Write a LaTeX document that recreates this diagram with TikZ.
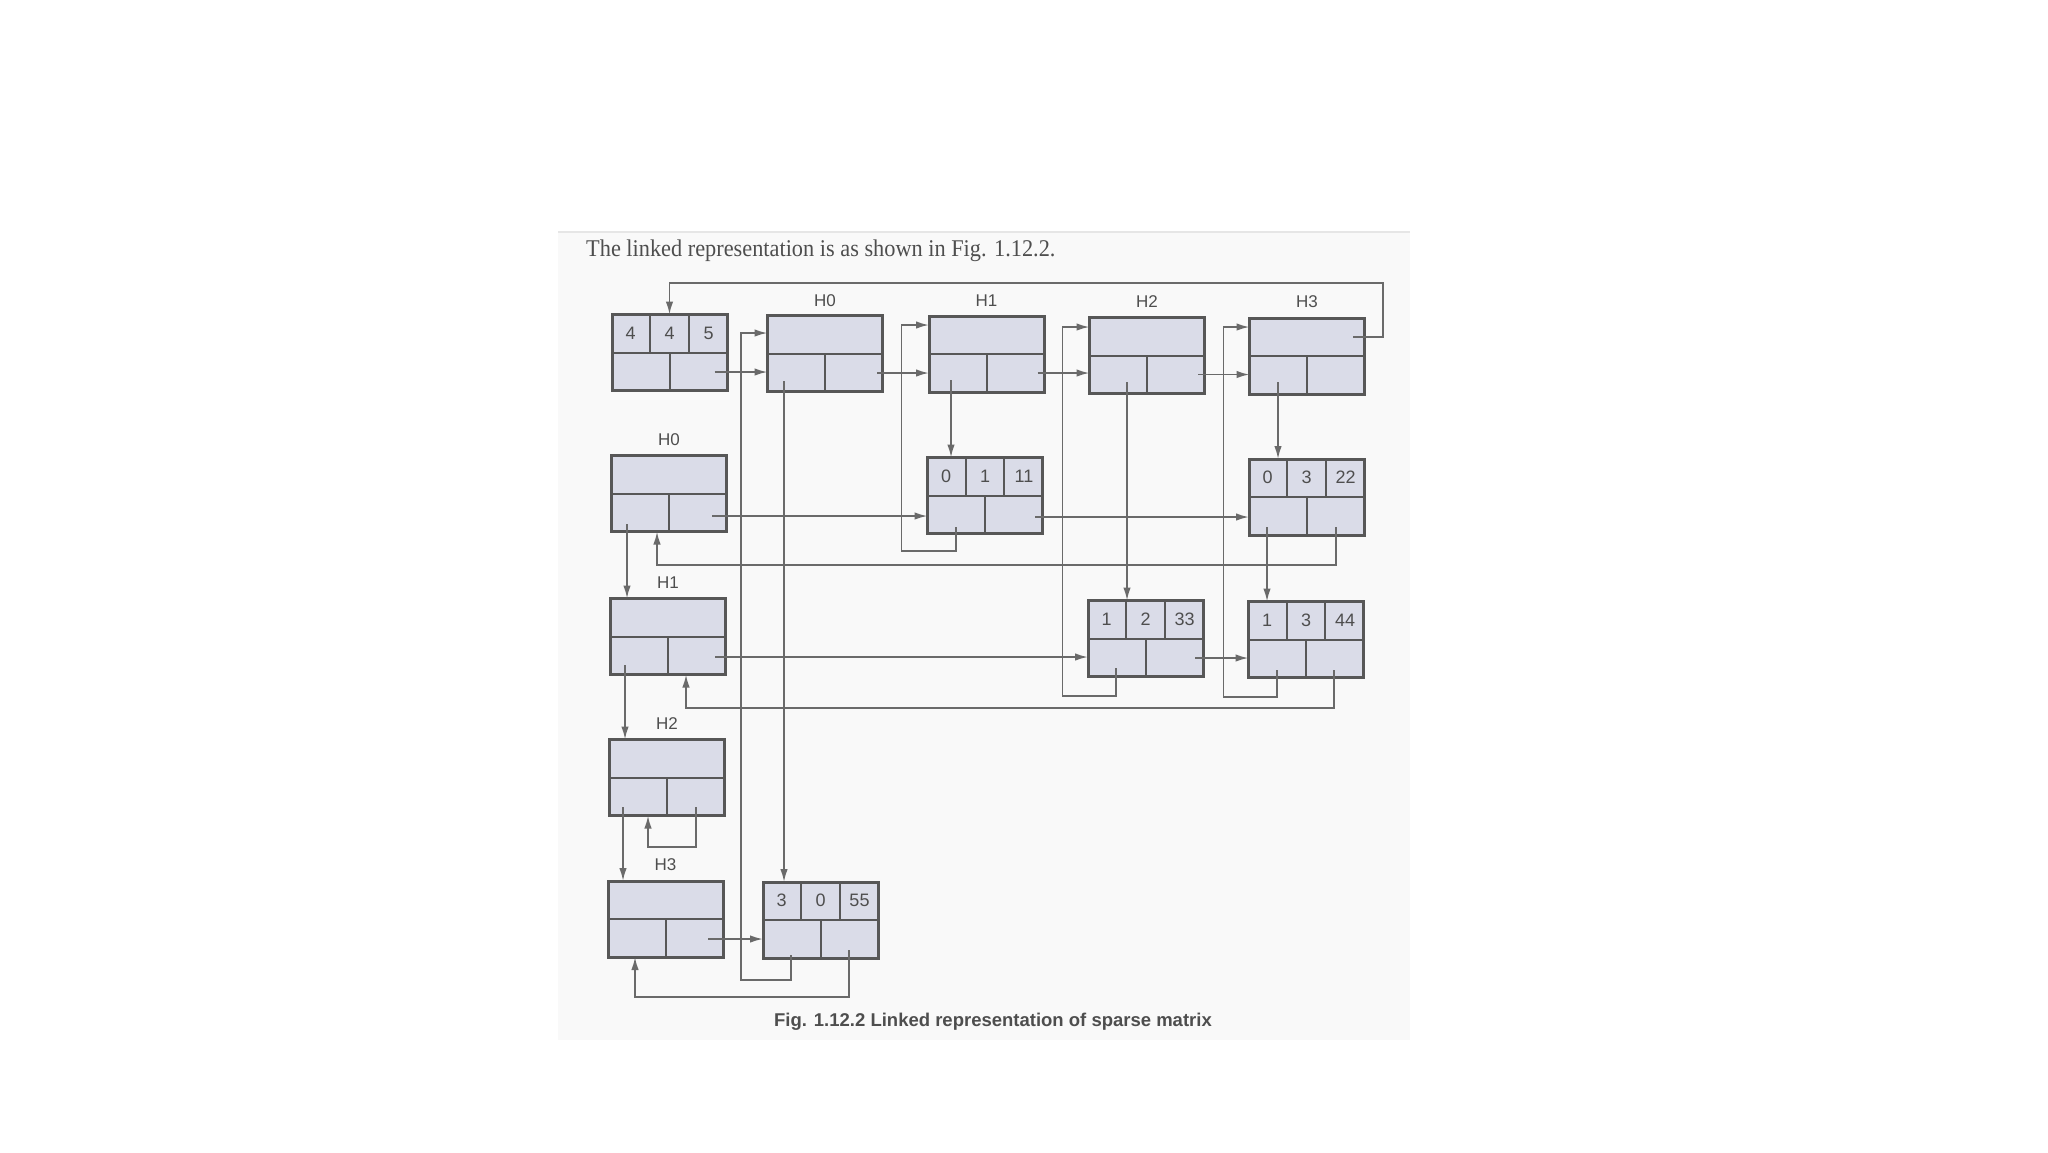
\documentclass[tikz,border=0pt]{standalone}
\usepackage{fontspec}
\usepackage{graphicx}
\setmainfont{Liberation Serif}
\newfontfamily\lsans{Liberation Sans}
\usetikzlibrary{calc,arrows.meta}
\definecolor{boxfill}{HTML}{DADCE8}
\definecolor{boxline}{HTML}{575757}
\definecolor{linkcol}{HTML}{6A6A6A}
\definecolor{txtcol}{HTML}{4E4E4E}
\definecolor{paper}{HTML}{F9F9F9}
\definecolor{paperedge}{HTML}{E6E6E6}
\tikzset{
  cellbox/.style={draw=boxline, line width=3pt, fill=boxfill, minimum width=115pt, minimum height=76pt, inner sep=0pt, outer sep=0pt},
  innerline/.style={draw=boxline, line width=2pt},
  link/.style={draw=linkcol, line width=1.8pt},
  arr/.style={link, -{Latex[length=13pt,width=7.5pt]}},
  hlab/.style={font=\lsans\fontsize{17}{17}\selectfont, text=txtcol, inner sep=0pt},
  dlab/.style={font=\lsans\fontsize{18}{18}\selectfont, text=txtcol, inner sep=0pt},
}
\newcommand\hdrbox[3]{%
  \node[cellbox] (#1) at (#2,#3) {};
  \draw[innerline] (#1.west) -- (#1.east) (#1.center) -- (#1.south);
}
\newcommand\valbox[6]{%
  \node[cellbox] (#1) at (#2,#3) {};
  \draw[innerline] (#1.west) -- (#1.east) (#1.center) -- (#1.south)
    ($(#1.north west)!1/3!(#1.north east)$) -- ($(#1.west)!1/3!(#1.east)$)
    ($(#1.north west)!2/3!(#1.north east)$) -- ($(#1.west)!2/3!(#1.east)$);
  \node[dlab] (#1-a) at ($(#1.center)+(-39,-19.5)$) {#4};
  \node[dlab] (#1-b) at ($(#1.center)+(0,-19.5)$) {#5};
  \node[dlab] (#1-c) at ($(#1.center)+(39,-19.5)$) {#6};
}
\begin{document}
\begin{tikzpicture}[x=1pt,y=-1pt]
\useasboundingbox (0,0) rectangle (2048,1152);
\fill[white] (0,0) rectangle (2048,1152);
% scanned page
\fill[paper] (558,232) rectangle (1410,1040);
\draw[paperedge, line width=1.5pt] (558,232) -- (1410,232);

\node[anchor=base west, text=txtcol, inner sep=0pt] (intro) at (586,256)
  {\fontsize{24}{24}\selectfont\scalebox{0.93}[1]{The linked representation is as shown in Fig. 1.12.2.}};

% header row
\valbox{n445}{669.5}{352.5}{4}{4}{5}
\hdrbox{h0c}{825}{353.5}
\hdrbox{h1c}{986.5}{354}
\hdrbox{h2c}{1147}{355.5}
\hdrbox{h3c}{1307}{356}
% row headers
\hdrbox{h0r}{669}{493.5}
\hdrbox{h1r}{668}{636.5}
\hdrbox{h2r}{667}{777.5}
\hdrbox{h3r}{665.5}{919}
% element nodes
\valbox{v011}{985}{495.5}{0}{1}{11}
\valbox{v0322}{1306.5}{497}{0}{3}{22}
\valbox{v1233}{1145.5}{638.5}{1}{2}{33}
\valbox{v1344}{1306}{639.5}{1}{3}{44}
\valbox{v3055}{820.5}{920}{3}{0}{55}

% labels
\node[hlab] (lh0c) at ($(h0c.north)+(0,-15)$) {H0};
\node[hlab] (lh1c) at ($(h1c.north)+(0,-15)$) {H1};
\node[hlab] (lh2c) at ($(h2c.north)+(0,-16)$) {H2};
\node[hlab] (lh3c) at ($(h3c.north)+(0,-16)$) {H3};
\node[hlab] (lh0r) at ($(h0r.north)+(0,-16)$) {H0};
\node[hlab] (lh1r) at ($(h1r.north)+(0,-16)$) {H1};
\node[hlab] (lh2r) at ($(h2r.north)+(0,-16)$) {H2};
\node[hlab] (lh3r) at ($(h3r.north)+(0,-16)$) {H3};

% ---- connector points ----
\coordinate (sT3) at ($(h3c.center)+(46,-19)$);
\coordinate (loopR) at (1383,283);
\coordinate (s445) at ($(n445.center)+(45,19.5)$);
\coordinate (s0c) at ($(h0c.center)+(52,19.5)$);
\coordinate (s1c) at ($(h1c.center)+(51,19)$);
\coordinate (s2c) at ($(h2c.center)+(51,19)$);
% top-cell entries
\coordinate (v3055L) at ($(v3055.center)+(-29.5,35)$);
\coordinate (bend0) at (741,980);
\coordinate (eT0) at ($(h0c.west)+(0,-20.5)$);
\coordinate (v011L) at ($(v011.center)+(-29,31.5)$);
\coordinate (bend1) at (901.5,551);
\coordinate (eT1) at ($(h1c.west)+(0,-29)$);
\coordinate (v1233L) at ($(v1233.center)+(-29.5,29.5)$);
\coordinate (bend2) at (1062.5,696);
\coordinate (eT2) at ($(h2c.west)+(0,-28.5)$);
\coordinate (v1344L) at ($(v1344.center)+(-29,30.5)$);
\coordinate (bend3) at (1223.5,697);
\coordinate (eT3) at ($(h3c.west)+(0,-29)$);
% down links
\coordinate (d0) at ($(h0c.center)+(-41,27.5)$);
\coordinate (d1) at ($(h1c.center)+(-35.5,26)$);
\coordinate (d2) at ($(h2c.center)+(-20,26.5)$);
\coordinate (d3) at ($(h3c.center)+(-29,26)$);
\coordinate (d4) at ($(v0322.center)+(-39.5,30)$);
\coordinate (r0) at ($(h0r.center)+(-42,30.5)$);
\coordinate (r1) at ($(h1r.center)+(-43,28.5)$);
\coordinate (r2) at ($(h2r.center)+(-44,29.5)$);
% row links
\coordinate (a0) at ($(h0r.center)+(43,22.5)$);
\coordinate (a1) at ($(v011.center)+(50,21.5)$);
\coordinate (a2) at ($(h1r.center)+(47,20.5)$);
\coordinate (a3) at ($(v1233.center)+(49.5,19.5)$);
\coordinate (a4) at ($(h3r.center)+(42.5,20)$);
% return links
\coordinate (q0) at ($(v0322.center)+(29.5,30)$);
\coordinate (rb0) at (657,565);
\coordinate (q1) at ($(v1344.center)+(28,30.5)$);
\coordinate (rb1) at (686,708);
\coordinate (q2) at ($(h2r.center)+(29,29.5)$);
\coordinate (rb2) at (648,847);
\coordinate (q3) at ($(v3055.center)+(28.5,30)$);
\coordinate (rb3) at (635,997);

% ---- connectors ----
\draw[arr] (sT3) -| (loopR) -| (n445.north);
\draw[arr] (s445) -- (s445 -| h0c.west);
\draw[arr] (s0c) -- (s0c -| h1c.west);
\draw[arr] (s1c) -- (s1c -| h2c.west);
\draw[arr] (s2c) -- (s2c -| h3c.west);

\draw[arr] (v3055L) |- (bend0) |- (eT0);
\draw[arr] (v011L) |- (bend1) |- (eT1);
\draw[arr] (v1233L) |- (bend2) |- (eT2);
\draw[arr] (v1344L) |- (bend3) |- (eT3);

\draw[arr] (d0) -- (d0 |- v3055.north);
\draw[arr] (d1) -- (d1 |- v011.north);
\draw[arr] (d2) -- (d2 |- v1233.north);
\draw[arr] (d3) -- (d3 |- v0322.north);
\draw[arr] (d4) -- (d4 |- v1344.north);
\draw[arr] (r0) -- (r0 |- h1r.north);
\draw[arr] (r1) -- (r1 |- h2r.north);
\draw[arr] (r2) -- (r2 |- h3r.north);

\draw[arr] (a0) -- (a0 -| v011.west);
\draw[arr] (a1) -- (a1 -| v0322.west);
\draw[arr] (a2) -- (a2 -| v1233.west);
\draw[arr] (a3) -- (a3 -| v1344.west);
\draw[arr] (a4) -- (a4 -| v3055.west);

\draw[arr] (q0) |- (rb0) -- (rb0 |- h0r.south);
\draw[arr] (q1) |- (rb1) -- (rb1 |- h1r.south);
\draw[arr] (q2) |- (rb2) -- (rb2 |- h2r.south);
\draw[arr] (q3) |- (rb3) -- (rb3 |- h3r.south);

\node[anchor=base, text=txtcol, inner sep=0pt, font=\lsans\bfseries\fontsize{18.5}{18.5}\selectfont] (caption) at (993,1026)
  {Fig. 1.12.2 Linked representation of sparse matrix};
\end{tikzpicture}
\end{document}
